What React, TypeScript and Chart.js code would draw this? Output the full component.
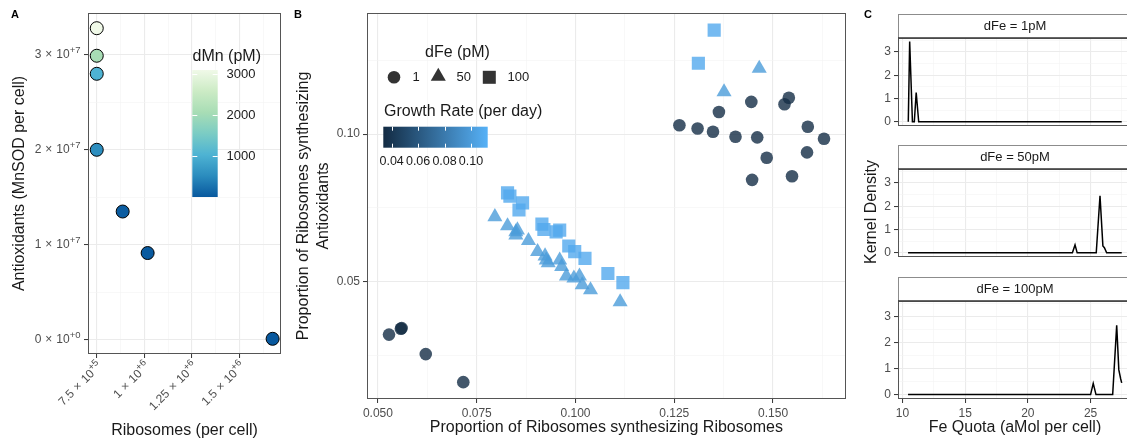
import React, { useEffect, useRef } from 'react';
import { Chart, registerables } from 'chart.js';
Chart.register(...registerables);

const FONT = "'Liberation Sans', Helvetica, Arial, sans-serif";
const TICK_COLOR = '#4d4d4d';
const TEXT_COLOR = '#1a1a1a';
const GRID_MAJOR = '#ebebeb';
const GRID_MINOR = '#f4f4f4';
const FRAME = '#555555';

// ---------- Panel A data ----------
const ribosomesA = [750000, 750000, 750000, 750000, 886000, 1017000, 1673000];
const antioxidantsA = [32800000, 29900000, 28000000, 20000000, 13500000, 9130000, 100000];
const dMnA = [3100, 2070, 1030, 540, 40, 20, 0];
const aXMajor = [750000, 1000000, 1250000, 1500000];
const aXMinor = [875000, 1125000, 1375000, 1625000];
const aXMantissa = ['7.5', '1', '1.25', '1.5'];
const aXExponent = ['+5', '+6', '+6', '+6'];
const aYMajor = [0, 10000000, 20000000, 30000000];
const aYMinor = [5000000, 15000000, 25000000];
const aYMantissa = ['0', '1', '2', '3'];
const aYExponent = ['+0', '+7', '+7', '+7'];
const dMnLegendTicks = [1000, 2000, 3000];
const dMnLimits = [0, 3100];
const gnbu = ['#08589E', '#2B8CBE', '#4EB3D3', '#7BCCC4', '#A8DDB5', '#CCEBC5', '#F0F9E8'];

// ---------- Panel B data ----------
const circleX = [0.0528, 0.0558, 0.0560, 0.0621, 0.0716, 0.1263, 0.1309, 0.1348, 0.1363, 0.1405, 0.1445, 0.1460, 0.1484, 0.1447, 0.1529, 0.1540, 0.1588, 0.1629, 0.1586, 0.1548];
const circleY = [0.0321, 0.0341, 0.0343, 0.0255, 0.0160, 0.1030, 0.1019, 0.1008, 0.1075, 0.0991, 0.1109, 0.0989, 0.0920, 0.0845, 0.1101, 0.1123, 0.1025, 0.0984, 0.0938, 0.0857];
const circleGrowth = [0.035, 0.034, 0.034, 0.035, 0.035, 0.035, 0.035, 0.035, 0.035, 0.035, 0.035, 0.035, 0.035, 0.035, 0.035, 0.035, 0.035, 0.035, 0.035, 0.035];
const triangleX = [0.0796, 0.0828, 0.0849, 0.0849, 0.0853, 0.0881, 0.0904, 0.0923, 0.0926, 0.0931, 0.0960, 0.0965, 0.0977, 0.0996, 0.1010, 0.1017, 0.1038, 0.1113, 0.1376, 0.1465];
const triangleY = [0.0720, 0.0689, 0.0669, 0.0658, 0.0675, 0.0639, 0.0602, 0.0587, 0.0573, 0.0564, 0.0573, 0.0551, 0.0519, 0.0512, 0.0519, 0.0489, 0.0472, 0.0432, 0.1143, 0.1222];
const triangleGrowth = [0.100, 0.100, 0.100, 0.100, 0.100, 0.100, 0.100, 0.100, 0.100, 0.100, 0.100, 0.100, 0.100, 0.100, 0.100, 0.100, 0.100, 0.100, 0.100, 0.100];
const squareX = [0.0828, 0.0834, 0.0866, 0.0857, 0.0915, 0.0920, 0.0951, 0.0960, 0.0983, 0.0998, 0.1024, 0.1082, 0.1120, 0.1311, 0.1351];
const squareY = [0.0801, 0.0790, 0.0767, 0.0743, 0.0695, 0.0677, 0.0669, 0.0675, 0.0621, 0.0602, 0.0579, 0.0528, 0.0497, 0.1240, 0.1352];
const squareGrowth = [0.108, 0.108, 0.108, 0.108, 0.108, 0.108, 0.108, 0.108, 0.108, 0.108, 0.108, 0.108, 0.108, 0.108, 0.108];
const bXMajor = [0.05, 0.075, 0.1, 0.125, 0.15];
const bXMinor = [0.0625, 0.0875, 0.1125, 0.1375, 0.1625];
const bXLabels = ['0.050', '0.075', '0.100', '0.125', '0.150'];
const bYMajor = [0.05, 0.1];
const bYMinor = [0.025, 0.075, 0.125];
const bYLabels = ['0.05', '0.10'];
const growthLegendTicks = [0.04, 0.06, 0.08, 0.1];
const growthLegendLabels = ['0.04', '0.06', '0.08', '0.10'];
const growthLimits = [0.0337, 0.1126];
const dFeLevels = ['1', '50', '100'];

// ---------- Panel C data ----------
const facetLabels = ['dFe = 1pM', 'dFe = 50pM', 'dFe = 100pM'];
const fe1X = [10.47, 10.58, 10.8, 10.95, 11.1, 11.3, 27.48];
const fe1Y = [0, 3.45, 0, 0, 1.26, 0, 0];
const fe50X = [10.45, 23.55, 23.76, 23.93, 25.45, 25.75, 25.98, 26.1, 26.28, 27.48];
const fe50Y = [0, 0, 0.34, 0, 0, 2.45, 0.3, 0.22, 0, 0];
const fe100X = [10.45, 25.0, 25.21, 25.43, 26.76, 27.08, 27.25, 27.4, 27.48];
const fe100Y = [0, 0, 0.43, 0, 0, 2.67, 0.95, 0.6, 0.45];
const cXMajor = [10, 15, 20, 25];
const cXMinor = [12.5, 17.5, 22.5, 27.5];
const cXLabels = ['10', '15', '20', '25'];
const cYMajor = [0, 1, 2, 3];
const cYMinor = [0.5, 1.5, 2.5, 3.5];
const cYLabels = ['0', '1', '2', '3'];

// ---------- helpers ----------
function hexToRgb(h: string) {
  const n = parseInt(h.slice(1), 16);
  return [(n >> 16) & 255, (n >> 8) & 255, n & 255];
}
function paletteColor(stops: string[], t: number) {
  t = Math.max(0, Math.min(1, t));
  const p = t * (stops.length - 1);
  const i = Math.min(stops.length - 2, Math.floor(p));
  const f = p - i;
  const a = hexToRgb(stops[i]);
  const b = hexToRgb(stops[i + 1]);
  return a.map((v, k) => Math.round(v + (b[k] - v) * f));
}
function dMnColor(v: number) {
  const c = paletteColor(gnbu, (v - dMnLimits[0]) / (dMnLimits[1] - dMnLimits[0]));
  return `rgb(${c[0]},${c[1]},${c[2]})`;
}
const growthStops = ['#132B43', '#56B1F7'];
function growthColor(g: number, alpha = 1) {
  const c = paletteColor(growthStops, (g - growthLimits[0]) / (growthLimits[1] - growthLimits[0]));
  return `rgba(${c[0]},${c[1]},${c[2]},${alpha})`;
}

function makeScale(o: any) {
  const { min, max, major, minor, labels, size, showLabels = true, rotation = 0, title } = o;
  const tol = Math.abs(max - min) * 1e-9;
  const idx = (v: number) => major.findIndex((m: number) => Math.abs(m - v) <= tol);
  return {
    type: 'linear',
    min,
    max,
    afterBuildTicks: (s: any) => {
      s.ticks = [...major, ...minor].sort((a, b) => a - b).map((v) => ({ value: v }));
    },
    afterFit: (s: any) => {
      if (s.isHorizontal()) s.height = size;
      else s.width = size;
    },
    grid: {
      color: (c: any) => (idx(c.tick ? c.tick.value : NaN) >= 0 ? GRID_MAJOR : GRID_MINOR),
      lineWidth: (c: any) => (idx(c.tick ? c.tick.value : NaN) >= 0 ? 1.1 : 0.6),
      tickColor: (c: any) => (idx(c.tick ? c.tick.value : NaN) >= 0 ? '#333333' : 'rgba(0,0,0,0)'),
      tickWidth: 1,
      tickLength: 4,
      drawTicks: showLabels,
    },
    border: { display: false },
    ticks: {
      display: showLabels,
      autoSkip: false,
      maxRotation: rotation,
      minRotation: rotation,
      padding: 3,
      color: TICK_COLOR,
      font: { family: FONT, size: 12 },
      callback: (v: number) => {
        if (!labels) return '';
        const i = idx(v);
        return i >= 0 ? labels[i] : '';
      },
    },
    title: title || { display: false },
  };
}

const framePlugin = {
  id: 'frame',
  afterDatasetsDraw(chart: any) {
    const { ctx, chartArea: a } = chart;
    ctx.save();
    ctx.strokeStyle = FRAME;
    ctx.lineWidth = 1;
    ctx.strokeRect(Math.round(a.left) + 0.5, Math.round(a.top) + 0.5, Math.round(a.right - a.left) - 1, Math.round(a.bottom - a.top) - 1);
    ctx.restore();
  },
};

function panelLabel(text: string, x: number, y: number) {
  return {
    id: 'panelLabel' + text,
    afterDraw(chart: any) {
      const ctx = chart.ctx;
      ctx.save();
      ctx.fillStyle = '#000';
      ctx.font = `bold 11px ${FONT}`;
      ctx.textAlign = 'center';
      ctx.textBaseline = 'middle';
      ctx.fillText(text, x, y);
      ctx.restore();
    },
  };
}

const baseOptions = {
  responsive: false,
  animation: false,
  devicePixelRatio: 1,
  events: [],
};
const noPlugins = { legend: { display: false }, tooltip: { enabled: false } };

function titleOpt(text: any, padding: any) {
  return { display: true, text, color: TEXT_COLOR, font: { family: FONT, size: 16 }, padding };
}

// draws "m × 10^e" with a raised exponent, right end at (0,0), baseline middle
function drawSci(ctx: any, mant: string, exp: string) {
  const base = `12px ${FONT}`;
  const sup = `9.5px ${FONT}`;
  ctx.font = sup;
  const we = ctx.measureText(exp).width;
  ctx.font = base;
  const w10 = ctx.measureText('10').width;
  const wx = ctx.measureText('×').width;
  const wm = ctx.measureText(mant).width;
  const gap = 4;
  let x = 0 - we - 0.5;
  ctx.textAlign = 'left';
  ctx.font = sup;
  ctx.fillText(exp, x, -4.5);
  ctx.font = base;
  x -= w10;
  ctx.fillText('10', x, 0);
  x -= gap + wx;
  ctx.fillText('×', x, 0);
  x -= gap + wm;
  ctx.fillText(mant, x, 0);
}

// ---------- chart configs ----------
function configA() {
  const legendPlugin = {
    id: 'legendA',
    afterDraw(chart: any) {
      const ctx = chart.ctx;
      const x0 = 192.3, x1 = 217.7, yTop = 70, yBot = 197;
      ctx.save();
      ctx.fillStyle = TEXT_COLOR;
      ctx.font = `16px ${FONT}`;
      ctx.textBaseline = 'middle';
      ctx.textAlign = 'left';
      ctx.fillText('dMn (pM)', 192.5, 57);
      const g = ctx.createLinearGradient(0, yBot, 0, yTop);
      gnbu.forEach((c, i) => g.addColorStop(i / (gnbu.length - 1), c));
      ctx.fillStyle = g;
      ctx.fillRect(x0, yTop, x1 - x0, yBot - yTop);
      const toY = (v: number) => yBot - ((v - dMnLimits[0]) / (dMnLimits[1] - dMnLimits[0])) * (yBot - yTop);
      ctx.strokeStyle = '#fff';
      ctx.lineWidth = 1;
      ctx.font = `13px ${FONT}`;
      ctx.fillStyle = TEXT_COLOR;
      dMnLegendTicks.forEach((v) => {
        const y = Math.round(toY(v)) + 0.5;
        ctx.beginPath();
        ctx.moveTo(x0, y); ctx.lineTo(x0 + 5, y);
        ctx.moveTo(x1 - 5, y); ctx.lineTo(x1, y);
        ctx.stroke();
        ctx.fillText(String(v), 226.5, toY(v));
      });
      ctx.restore();
    },
  };
  const sciLabels = {
    id: 'sciLabels',
    afterDraw(chart: any) {
      const ctx = chart.ctx;
      const xs = chart.scales.x, ys = chart.scales.y, a = chart.chartArea;
      ctx.save();
      ctx.fillStyle = TICK_COLOR;
      ctx.textBaseline = 'middle';
      aYMajor.forEach((v, i) => {
        ctx.save();
        ctx.translate(a.left - 7, ys.getPixelForValue(v));
        drawSci(ctx, aYMantissa[i], aYExponent[i]);
        ctx.restore();
      });
      aXMajor.forEach((v, i) => {
        ctx.save();
        ctx.translate(xs.getPixelForValue(v) + 4, a.bottom + 10);
        ctx.rotate(-Math.PI / 4);
        drawSci(ctx, aXMantissa[i], aXExponent[i]);
        ctx.restore();
      });
      ctx.restore();
    },
  };
  return {
    type: 'scatter',
    data: {
      datasets: [
        {
          data: ribosomesA.map((x, i) => ({ x, y: antioxidantsA[i] })),
          pointRadius: 6.5,
          pointBorderWidth: 1,
          pointBorderColor: '#000',
          pointBackgroundColor: dMnA.map((v) => dMnColor(v)),
        },
      ],
    },
    options: {
      ...baseOptions,
      layout: { padding: { top: 13, right: 9, left: 0, bottom: 0 } },
      plugins: noPlugins,
      scales: {
        x: makeScale({ min: 704000, max: 1717000, major: aXMajor, minor: aXMinor, labels: null, size: 86, title: titleOpt('Ribosomes (per cell)', { top: 0, bottom: 0 }) }),
        y: makeScale({ min: -1500000, max: 34400000, major: aYMajor, minor: aYMinor, labels: null, size: 88, title: titleOpt('Antioxidants (MnSOD per cell)', { top: 10.4, bottom: 0 }) }),
      },
    },
    plugins: [framePlugin, legendPlugin, sciLabels, panelLabel('A', 15, 15)],
  };
}

function configB() {
  const legendPlugin = {
    id: 'legendB',
    afterDraw(chart: any) {
      const ctx = chart.ctx;
      ctx.save();
      ctx.fillStyle = TEXT_COLOR;
      ctx.textBaseline = 'middle';
      ctx.textAlign = 'left';
      ctx.font = `16px ${FONT}`;
      ctx.fillText('dFe (pM)', 135, 53);
      ctx.fillStyle = 'rgba(0,0,0,0.8)';
      ctx.beginPath();
      ctx.arc(104, 77.3, 6.3, 0, Math.PI * 2);
      ctx.fill();
      const tx = 148.3, ty = 76.5, r = 8.7;
      ctx.beginPath();
      ctx.moveTo(tx, ty - r);
      ctx.lineTo(tx + r * Math.sin((2 * Math.PI) / 3), ty + r / 2);
      ctx.lineTo(tx - r * Math.sin((2 * Math.PI) / 3), ty + r / 2);
      ctx.closePath();
      ctx.fill();
      ctx.fillRect(199.3 - 6.5, 77.3 - 6.5, 13, 13);
      ctx.fillStyle = TEXT_COLOR;
      ctx.font = `13px ${FONT}`;
      ctx.fillText(dFeLevels[0], 122.5, 77.5);
      ctx.fillText(dFeLevels[1], 166.5, 77.5);
      ctx.fillText(dFeLevels[2], 217.5, 77.5);
      ctx.font = `16px ${FONT}`;
      ctx.fillText('Growth Rate (per day)', 94, 112);
      const x0 = 93.3, x1 = 197.7, y0 = 126.7, y1 = 147.7;
      const g = ctx.createLinearGradient(x0, 0, x1, 0);
      g.addColorStop(0, growthStops[0]);
      g.addColorStop(1, growthStops[1]);
      ctx.fillStyle = g;
      ctx.fillRect(x0, y0, x1 - x0, y1 - y0);
      const toX = (v: number) => x0 + ((v - growthLimits[0]) / (growthLimits[1] - growthLimits[0])) * (x1 - x0);
      ctx.strokeStyle = '#fff';
      ctx.lineWidth = 1;
      ctx.font = `12.5px ${FONT}`;
      ctx.textAlign = 'center';
      ctx.fillStyle = TEXT_COLOR;
      growthLegendTicks.forEach((v, i) => {
        const x = Math.round(toX(v)) + 0.5;
        ctx.beginPath();
        ctx.moveTo(x, y0); ctx.lineTo(x, y0 + 4);
        ctx.moveTo(x, y1 - 4); ctx.lineTo(x, y1);
        ctx.stroke();
        ctx.fillText(growthLegendLabels[i], toX(v), 161.7);
      });
      ctx.restore();
    },
  };
  return {
    type: 'scatter',
    data: {
      datasets: [
        {
          data: circleX.map((x, i) => ({ x, y: circleY[i] })),
          pointStyle: 'circle',
          pointRadius: 6.3,
          pointBorderWidth: 0,
          pointBackgroundColor: circleGrowth.map((g) => growthColor(g, 0.8)),
        },
        {
          data: triangleX.map((x, i) => ({ x, y: triangleY[i] })),
          pointStyle: 'triangle',
          pointRadius: 8.7,
          pointBorderWidth: 0,
          pointBackgroundColor: triangleGrowth.map((g) => growthColor(g, 0.8)),
        },
        {
          data: squareX.map((x, i) => ({ x, y: squareY[i] })),
          pointStyle: 'rect',
          pointRadius: 9.3,
          pointBorderWidth: 0,
          pointBackgroundColor: squareGrowth.map((g) => growthColor(g, 0.8)),
        },
      ],
    },
    options: {
      ...baseOptions,
      layout: { padding: { top: 13, right: 7, left: 0, bottom: 0 } },
      plugins: noPlugins,
      scales: {
        x: makeScale({ min: 0.04723, max: 0.16839, major: bXMajor, minor: bXMinor, labels: bXLabels, size: 41, title: titleOpt('Proportion of Ribosomes synthesizing Ribosomes', { top: 0, bottom: 2.4 }) }),
        y: makeScale({ min: 0.0103, max: 0.141, major: bYMajor, minor: bYMinor, labels: bYLabels, size: 77, title: titleOpt(['Proportion of Ribosomes synthesizing', 'Antioxidants'], { top: 4.4, bottom: 0 }) }),
      },
    },
    plugins: [framePlugin, legendPlugin, panelLabel('B', 8, 15)],
  };
}

const STRIP_H = 24;
function configC(i: number, stripTop: number) {
  const xs = [fe1X, fe50X, fe100X][i];
  const ys = [fe1Y, fe50Y, fe100Y][i];
  const last = i === 2;
  const stripPlugin = {
    id: 'strip',
    afterDraw(chart: any) {
      const { ctx, chartArea: a, width } = chart;
      const sb = stripTop + STRIP_H;
      ctx.save();
      ctx.fillStyle = '#fff';
      ctx.fillRect(Math.round(a.left), stripTop, width, STRIP_H);
      ctx.strokeStyle = '#8c8c8c';
      ctx.lineWidth = 1;
      ctx.strokeRect(Math.round(a.left) + 0.5, stripTop + 0.5, width, STRIP_H);
      ctx.strokeStyle = '#333';
      ctx.lineWidth = 1.5;
      ctx.beginPath();
      ctx.moveTo(a.left, sb);
      ctx.lineTo(width, sb);
      ctx.stroke();
      ctx.fillStyle = TEXT_COLOR;
      ctx.font = `13px ${FONT}`;
      ctx.textAlign = 'center';
      ctx.textBaseline = 'middle';
      ctx.fillText(facetLabels[i], (a.left + a.right) / 2, stripTop + STRIP_H / 2 + 0.5);
      if (i === 0) {
        ctx.fillStyle = '#000';
        ctx.font = `bold 11px ${FONT}`;
        ctx.fillText('C', 13, 15);
      }
      if (i === 1) {
        ctx.save();
        ctx.translate(17, 212 - 145);
        ctx.rotate(-Math.PI / 2);
        ctx.fillStyle = TEXT_COLOR;
        ctx.font = `16px ${FONT}`;
        ctx.textAlign = 'center';
        ctx.textBaseline = 'middle';
        ctx.fillText('Kernel Density', 0, 0);
        ctx.restore();
      }
      ctx.restore();
    },
  };
  return {
    type: 'line',
    data: {
      datasets: [
        {
          data: xs.map((x, k) => ({ x, y: ys[k] })),
          borderColor: '#000',
          borderWidth: 1.5,
          pointRadius: 0,
          tension: 0,
          fill: false,
        },
      ],
    },
    options: {
      ...baseOptions,
      layout: { padding: { top: stripTop + STRIP_H, right: 13, left: 0, bottom: 0 } },
      plugins: noPlugins,
      scales: {
        x: makeScale({ min: 9.65, max: 28.3, major: cXMajor, minor: cXMinor, labels: cXLabels, size: last ? 41 : 0, showLabels: last, title: last ? titleOpt('Fe Quota (aMol per cell)', { top: 0, bottom: 2.4 }) : undefined }),
        y: makeScale({ min: -0.17, max: 3.6, major: cYMajor, minor: cYMinor, labels: cYLabels, size: 43 }),
      },
    },
    plugins: [framePlugin, stripPlugin],
  };
}

function ChartBox({ left, top, width, height, make }: any) {
  const ref = useRef<HTMLCanvasElement>(null);
  useEffect(() => {
    const chart = new Chart(ref.current as HTMLCanvasElement, make());
    return () => chart.destroy();
  }, []);
  return (
    <div style={{ position: 'absolute', left, top, width, height }}>
      <canvas ref={ref} width={width} height={height} style={{ width, height, display: 'block' }} />
    </div>
  );
}

export default function App() {
  return (
    <div style={{ position: 'absolute', left: 0, top: 0, width: 1127, height: 440, overflow: 'hidden', background: '#fff' }}>
      <ChartBox left={0} top={0} width={290} height={440} make={configA} />
      <ChartBox left={290} top={0} width={565} height={440} make={configB} />
      <ChartBox left={855} top={0} width={290} height={136} make={() => configC(0, 14)} />
      <ChartBox left={855} top={145} width={290} height={122} make={() => configC(1, 0)} />
      <ChartBox left={855} top={277} width={290} height={163} make={() => configC(2, 0)} />
    </div>
  );
}
